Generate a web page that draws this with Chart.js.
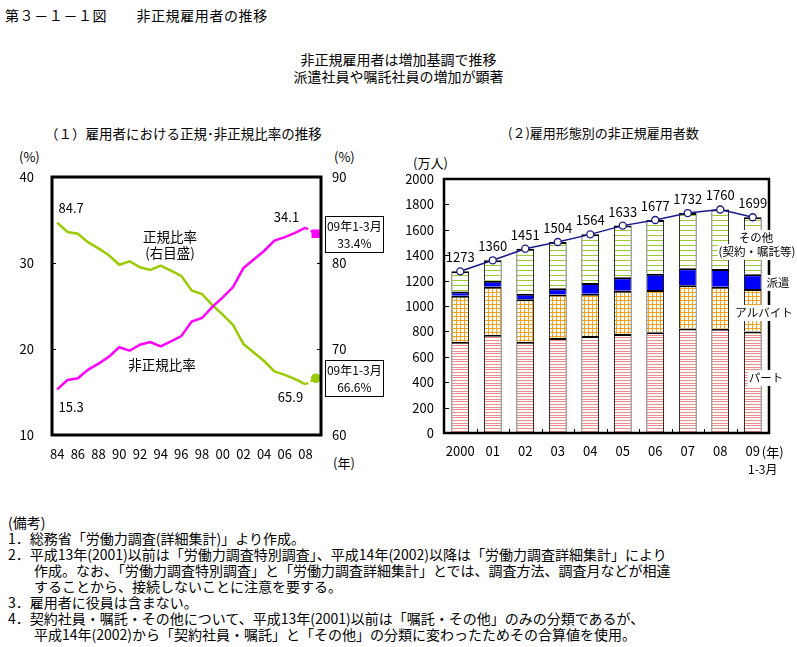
<!DOCTYPE html>
<html lang="ja">
<head>
<meta charset="utf-8">
<title>非正規雇用者の推移</title>
<script src="https://cdn.jsdelivr.net/npm/chart.js@4.4.1/dist/chart.umd.min.js"></script>
<style>
  body { margin: 0; background: #fff; color: #000; font-family: "Noto Sans CJK JP", sans-serif; }
  #page { position: relative; width: 797px; height: 647px; overflow: hidden; }
  .t { position: absolute; font-size: 13px; line-height: 16px; white-space: nowrap; }
  canvas { position: absolute; }
  .notes { font-size: 14px; }
  .notes div { height: 16px; }
  .ind { padding-left: 26px; }
</style>
</head>
<body>
<div id="page">
  <div class="t" style="left:5px;top:7px;font-size:14px;letter-spacing:0.6px">第３－１－１図　　非正規雇用者の推移</div>
  <div class="t" style="left:0;width:797px;top:51px;text-align:center;font-size:14px;line-height:17px">非正規雇用者は増加基調で推移<br>派遣社員や嘱託社員の増加が顕著</div>
  <div class="t" style="left:45px;top:125px;font-size:13.5px">（１）雇用者における正規･非正規比率の推移</div>
  <div class="t" style="left:508px;top:125px;font-size:13px">(２)雇用形態別の非正規雇用者数</div>

  <div class="t" style="left:19px;top:149px">(%)</div>
  <div class="t" style="left:334px;top:149px">(%)</div>
  <div class="t" style="left:333px;top:455px">(年)</div>
  <div class="t" style="left:413px;top:155px">(万人)</div>

  <canvas id="ratioChart" width="400" height="330" style="left:0;top:140px"></canvas>
  <canvas id="countChart" width="397" height="345" style="left:400px;top:140px"></canvas>

  <div class="t notes" style="left:8px;top:514px">
    <div>(備考)</div>
    <div>1．総務省「労働力調査(詳細集計)」より作成。</div>
    <div>2．平成13年(2001)以前は「労働力調査特別調査」、平成14年(2002)以降は「労働力調査詳細集計」により</div>
    <div class="ind">作成。なお、「労働力調査特別調査」と「労働力調査詳細集計」とでは、調査方法、調査月などが相違</div>
    <div class="ind">することから、接続しないことに注意を要する。</div>
    <div>3．雇用者に役員は含まない。</div>
    <div>4．契約社員・嘱託・その他について、平成13年(2001)以前は「嘱託・その他」のみの分類であるが、</div>
    <div class="ind">平成14年(2002)から「契約社員・嘱託」と「その他」の分類に変わったためその合算値を使用。</div>
  </div>
</div>

<script>
// (1) 正規・非正規比率 (%), 1984-2008 + 2009年1-3月
const years = ["84", "85", "86", "87", "88", "89", "90", "91", "92", "93", "94", "95", "96",
               "97", "98", "99", "00", "01", "02", "03", "04", "05", "06", "07", "08", "09"];
const nonRegular = [15.3, 16.4, 16.6, 17.6, 18.3, 19.1, 20.2, 19.8, 20.5, 20.8, 20.3, 20.9, 21.5,
                    23.2, 23.6, 24.9, 26.0, 27.2, 29.4, 30.4, 31.4, 32.6, 33.0, 33.5, 34.1, 33.4];
const regular = [84.7, 83.6, 83.4, 82.4, 81.7, 80.9, 79.8, 80.2, 79.5, 79.2, 79.7, 79.1, 78.5,
                 76.8, 76.4, 75.1, 74.0, 72.8, 70.6, 69.6, 68.6, 67.4, 67.0, 66.5, 65.9, 66.6];

// (2) 雇用形態別の非正規雇用者数 (万人)
const barYears = ["2000", "01", "02", "03", "04", "05", "06", "07", "08", "09"];
const part   = [719, 774, 718, 748, 763, 780, 793, 822, 821, 800];
const arbeit = [362, 378, 336, 342, 334, 340, 333, 342, 331, 334];
const haken  = [33, 47, 43, 50, 85, 106, 128, 133, 140, 116];
const other  = [159, 161, 354, 364, 382, 407, 423, 435, 468, 449];
const total  = [1273, 1360, 1451, 1504, 1564, 1633, 1677, 1732, 1760, 1699];

const JP = '"Noto Sans CJK JP", sans-serif';
Chart.defaults.font.family = JP;
Chart.defaults.font.size = 13;
Chart.defaults.color = "#000";

function stripes(color, period, rows) {
    const c = document.createElement("canvas");
    c.width = 4; c.height = period;
    const g = c.getContext("2d");
    g.fillStyle = "#fff";
    g.fillRect(0, 0, 4, period);
    g.fillStyle = color;
    rows.forEach(r => g.fillRect(0, r, 4, 1));
    return g.createPattern(c, "repeat");
}

function grid(color, size) {
    const c = document.createElement("canvas");
    c.width = size; c.height = size;
    const g = c.getContext("2d");
    g.fillStyle = "#fff";
    g.fillRect(0, 0, size, size);
    g.fillStyle = color;
    g.fillRect(0, 0, size, 1);
    g.fillRect(0, 0, 1, size);
    return g.createPattern(c, "repeat");
}

function text(ctx, s, x, y, size, align) {
    ctx.font = size + "px " + JP;
    ctx.textAlign = align || "center";
    ctx.textBaseline = "middle";
    ctx.fillText(s, x, y);
}

const noGrid = { display: false, drawTicks: false };

// ---------- left chart ----------
const ratioPlugin = {
    id: "ratioDeco",
    afterDatasetsDraw(chart) {
        const { ctx, chartArea: a, scales } = chart;
        ctx.save();
        ctx.strokeStyle = "#000";
        ctx.lineWidth = 1;
        [20, 30].forEach(v => {
            const y = Math.round(scales.y.getPixelForValue(v)) + 0.5;
            ctx.beginPath(); ctx.moveTo(a.left, y); ctx.lineTo(a.left + 4, y); ctx.stroke();
        });
        [70, 80].forEach(v => {
            const y = Math.round(scales.y2.getPixelForValue(v)) + 0.5;
            ctx.beginPath(); ctx.moveTo(a.right - 4, y); ctx.lineTo(a.right, y); ctx.stroke();
        });
        ctx.lineWidth = 3;
        ctx.strokeRect(a.left, a.top, a.right - a.left, a.bottom - a.top);
        ctx.restore();
    },
    afterDraw(chart) {
        const { ctx, chartArea: a, scales } = chart;
        const x = scales.x, y = scales.y, y2 = scales.y2;
        const last = years.length - 1;
        ctx.save();
        ctx.fillStyle = "#000";
        text(ctx, "84.7", x.getPixelForValue(0) + 14, y2.getPixelForValue(regular[0]) - 15, 13);
        text(ctx, "15.3", x.getPixelForValue(0) + 14, y.getPixelForValue(nonRegular[0]) + 18, 13);
        text(ctx, "34.1", x.getPixelForValue(last - 1) - 19, y.getPixelForValue(nonRegular[last - 1]) - 11, 13);
        text(ctx, "65.9", x.getPixelForValue(last - 1) - 15, y2.getPixelForValue(regular[last - 1]) + 13, 13);
        text(ctx, "正規比率", a.left + 118, a.top + 60, 13.5);
        text(ctx, "(右目盛)", a.left + 118, a.top + 76, 13.5);
        text(ctx, "非正規比率", a.left + 110, a.top + 188, 13.5);

        const bx = x.getPixelForValue(last) + 9;
        [[y.getPixelForValue(nonRegular[last]), nonRegular[last]],
         [y2.getPixelForValue(regular[last]), regular[last]]].forEach(([py, v]) => {
            const top = Math.round(py - 18);
            ctx.fillStyle = "#fff";
            ctx.fillRect(bx, top, 58, 36);
            ctx.strokeStyle = "#000";
            ctx.lineWidth = 1;
            ctx.strokeRect(Math.round(bx) + 0.5, top + 0.5, 58, 36);
            ctx.fillStyle = "#000";
            text(ctx, "09年1-3月", bx + 29.5, top + 10, 12);
            text(ctx, v.toFixed(1) + "%", bx + 29.5, top + 27, 12);
        });
        ctx.restore();
    }
};

const lastIdx = years.length - 1;
new Chart(document.getElementById("ratioChart"), {
    type: "line",
    data: {
        labels: years,
        datasets: [{
            label: "非正規比率",
            data: nonRegular,
            yAxisID: "y",
            borderColor: "#ff00ff",
            backgroundColor: "#ff00ff",
            borderWidth: 2.5,
            pointStyle: "rect",
            pointRadius: ctx => ctx.dataIndex === lastIdx ? 4.3 : 0,
            segment: { borderDash: ctx => ctx.p1DataIndex === lastIdx ? [3, 3] : undefined }
        }, {
            label: "正規比率",
            data: regular,
            yAxisID: "y2",
            borderColor: "#99cc00",
            backgroundColor: "#99cc00",
            borderWidth: 2.5,
            pointStyle: "circle",
            pointRadius: ctx => ctx.dataIndex === lastIdx ? 3.6 : 0,
            segment: { borderDash: ctx => ctx.p1DataIndex === lastIdx ? [3, 3] : undefined }
        }]
    },
    options: {
        responsive: false,
        animation: false,
        layout: { padding: { top: 37, left: 0, right: 0, bottom: 0 } },
        plugins: { legend: { display: false }, tooltip: { enabled: false } },
        scales: {
            x: {
                offset: true,
                grid: noGrid,
                border: { display: false },
                ticks: {
                    autoSkip: false, maxRotation: 0, padding: 11,
                    callback: function (v, i) { return i % 2 === 0 ? this.getLabelForValue(v) : ""; }
                },
                afterFit: s => { s.height = 35; }
            },
            y: {
                position: "left", min: 10, max: 40,
                grid: noGrid,
                border: { display: false },
                ticks: { stepSize: 10, padding: 18 },
                afterFit: s => { s.width = 52; }
            },
            y2: {
                position: "right", min: 60, max: 90,
                grid: noGrid,
                border: { display: false },
                ticks: { stepSize: 10, padding: 11 },
                afterFit: s => { s.width = 79; }
            }
        }
    },
    plugins: [ratioPlugin]
});

// ---------- right chart ----------
const countPlugin = {
    id: "countDeco",
    afterDatasetsDraw(chart) {
        const { ctx, chartArea: a, scales } = chart;
        ctx.save();
        ctx.strokeStyle = "#000";
        ctx.lineWidth = 1;
        for (let v = 200; v < 2000; v += 200) {
            const y = Math.round(scales.y.getPixelForValue(v)) + 0.5;
            ctx.beginPath(); ctx.moveTo(a.left, y); ctx.lineTo(a.left + 5, y); ctx.stroke();
        }
        const step = (a.right - a.left) / barYears.length;
        for (let i = 1; i < barYears.length; i++) {
            const x = Math.round(a.left + step * i) + 0.5;
            ctx.beginPath(); ctx.moveTo(x, a.bottom); ctx.lineTo(x, a.bottom - 4); ctx.stroke();
        }
        ctx.lineWidth = 2.5;
        ctx.strokeRect(a.left, a.top, a.right - a.left, a.bottom - a.top);
        ctx.restore();
    },
    afterDraw(chart) {
        const { ctx, chartArea: a, scales } = chart;
        ctx.save();
        ctx.fillStyle = "#000";
        total.forEach((v, i) => {
            text(ctx, String(v), scales.x.getPixelForValue(i), scales.y.getPixelForValue(v) - 14, 13);
        });
        const x9 = scales.x.getPixelForValue(barYears.length - 1);
        text(ctx, "(年)", x9 + 9, a.bottom + 19, 13, "left");
        text(ctx, "1-3月", x9 + 10, a.bottom + 36, 12);

        const tags = [
            ["その他", a.right - 13, 98],
            ["(契約・嘱託等)", a.right - 12, 112],
            ["派遣", a.right + 9, 143],
            ["アルバイト", a.right - 5, 173],
            ["パート", a.right - 3, 238]
        ];
        tags.forEach(([s, cx, cy]) => {
            ctx.font = "11.5px " + JP;
            const w = ctx.measureText(s).width;
            ctx.fillStyle = "#fff";
            ctx.fillRect(cx - w / 2 - 1, cy - 8, w + 2, 16);
            ctx.fillStyle = "#000";
            text(ctx, s, cx, cy, 11.5);
        });
        ctx.restore();
    }
};

const segBorder = { top: 2, left: 1, right: 1, bottom: 0 };
function barSet(label, data, fill) {
    return {
        type: "bar", label: label, data: data, stack: "kind", order: 1,
        backgroundColor: fill, borderColor: "#000",
        borderWidth: segBorder, borderSkipped: false,
        barPercentage: 0.545, categoryPercentage: 1
    };
}

new Chart(document.getElementById("countChart"), {
    type: "bar",
    data: {
        labels: barYears,
        datasets: [
            barSet("パート", part, stripes("#f08c8c", 8, [0, 3, 5])),
            barSet("アルバイト", arbeit, grid("#f7a11a", 4)),
            barSet("派遣", haken, "#0000ff"),
            barSet("その他(契約・嘱託等)", other, stripes("#99cc33", 5, [0])),
            {
                type: "line", label: "合計", data: total, stack: "total", order: 0,
                borderColor: "#1a1a8a", borderWidth: 1.5,
                pointRadius: 3.5, pointBackgroundColor: "#fff",
                pointBorderColor: "#1a1a8a", pointBorderWidth: 1.3
            }
        ]
    },
    options: {
        responsive: false,
        animation: false,
        layout: { padding: { top: 39, left: 0, right: 28, bottom: 0 } },
        plugins: { legend: { display: false }, tooltip: { enabled: false } },
        scales: {
            x: {
                stacked: true,
                grid: noGrid,
                border: { display: false },
                ticks: { maxRotation: 0, autoSkip: false, padding: 10 },
                afterFit: s => { s.height = 52; }
            },
            y: {
                stacked: true, min: 0, max: 2000,
                grid: noGrid,
                border: { display: false },
                ticks: { stepSize: 200, padding: 10, callback: v => String(v) },
                afterFit: s => { s.width = 44; }
            }
        }
    },
    plugins: [countPlugin]
});
</script>
</body>
</html>
